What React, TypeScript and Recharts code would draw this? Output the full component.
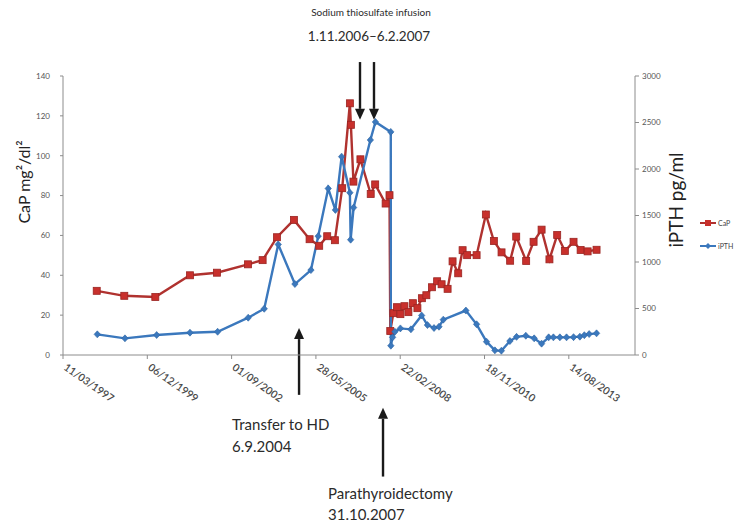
import { LineChart, Line, XAxis, YAxis, ReferenceLine } from "recharts";

// x positions are days counted from 11/03/1997 (Excel date axis, major unit 1000 days)
const TICK_DAYS = [0, 1000, 2000, 3000, 4000, 5000, 6000];
const TICK_LABELS = ["11/03/1997", "06/12/1999", "01/09/2002", "28/05/2005", "22/02/2008", "18/11/2010", "14/08/2013"];
const CAP_TICKS = [0, 20, 40, 60, 80, 100, 120, 140];
const PTH_TICKS = [0, 500, 1000, 1500, 2000, 2500, 3000];

const CAP_DAYS = [
  400, 727, 1095, 1506, 1826, 2194, 2368, 2538, 2739, 2925, 3039, 3134, 3225, 3312, 3403, 3415, 3445,
  3528, 3650, 3703, 3827, 3873, 3882, 3919, 3961, 4002, 4050, 4097, 4150, 4204, 4257, 4310, 4376,
  4438, 4491, 4562, 4621, 4688, 4740, 4794, 4906, 5016, 5111, 5202, 5304, 5376, 5494, 5582, 5677,
  5770, 5862, 5953, 6056, 6140, 6223, 6329,
];
const CAP_VALUES = [
  32.2, 29.7, 29.1, 40, 41.3, 45.5, 47.6, 59.1, 67.8, 58.1, 54.8, 59.6, 57.6, 83.7, 126.3, 115.5, 87,
  98.2, 80.8, 85.6, 76, 80.2, 12, 21, 24, 20.5, 24.5, 21.5, 26, 23.5, 28.5, 30, 34,
  37, 35.5, 33.2, 47, 41, 52.6, 50.1, 50.1, 70.5, 57.2, 51.5, 47.3, 59.4, 47.2, 56.8, 62.9,
  48, 60.2, 52.2, 56.8, 52.7, 52, 52.8,
];

const PTH_DAYS = [
  407, 735, 1111, 1506, 1834, 2197, 2387, 2553, 2751, 2941, 3027, 3146, 3231, 3305, 3403, 3412, 3447,
  3646, 3706, 3888, 3889, 3910, 3937, 4002, 4127, 4254, 4323, 4401, 4460, 4511, 4779, 4906, 5024,
  5123, 5200, 5301, 5380, 5490, 5589, 5677, 5761, 5817, 5894, 5973, 6056, 6131, 6184, 6241, 6329,
];
const PTH_VALUES = [
  222, 179, 215, 240, 250, 401, 497, 1189, 763, 913, 1278, 1790, 1560, 2133, 1745, 1240, 1585,
  2312, 2506, 2399, 100, 190, 250, 286, 276, 425, 322, 290, 304, 380, 478, 330, 143,
  50, 46, 150, 195, 207, 179, 122, 190, 190, 190, 190, 192, 197, 213, 225, 233,
];

const capData = CAP_DAYS.map((day, i) => ({ day, value: CAP_VALUES[i] }));
const pthData = PTH_DAYS.map((day, i) => ({ day, value: PTH_VALUES[i] }));

const RED = "#c8302c";
const RED_LINE = "#b0322f";
const BLUE = "#3b78bd";
const AXIS = "#8c8c8c";
const FONT = "Lato, 'Open Sans', sans-serif";

function Square(props: any) {
  const { cx, cy } = props;
  if (cx == null || cy == null) return null;
  return <rect x={cx - 3.5} y={cy - 3.5} width={7} height={7} fill={RED} stroke="#9a2522" strokeWidth={0.8} />;
}

function Diamond(props: any) {
  const { cx, cy } = props;
  if (cx == null || cy == null) return null;
  return <path d={`M${cx},${cy - 3.5}L${cx + 3.2},${cy}L${cx},${cy + 3.5}L${cx - 3.2},${cy}Z`} fill={BLUE} stroke="#2d64a3" strokeWidth={0.6} />;
}

function DateTick({ x, y, payload }: any) {
  const label = TICK_LABELS[TICK_DAYS.indexOf(payload.value)] ?? "";
  const tx = x;
  const ty = y + 8;
  return (
    <text x={tx} y={ty} transform={`rotate(35, ${tx}, ${ty})`} textAnchor="start" fontSize={10.5} fontFamily={FONT} fontWeight={600} fill="#4a4a4a">
      {label}
    </text>
  );
}

type Note = { text: string; dx: number; dy: number; size: number; anchor?: "start" | "middle" };

// arrow drawn from (x1,y1) to its tip at (x2,y2); notes are placed relative to the tail
function makeArrow(notes: Note[]) {
  return (p: any) => {
    const { x1, y1, x2, y2 } = p;
    const dir = y2 > y1 ? 1 : -1;
    const head = 11;
    return (
      <g>
        <line x1={x1} y1={y1} x2={x2} y2={y2 - dir * head} stroke="#1a1a1a" strokeWidth={2.4} />
        <path d={`M${x2},${y2}L${x2 - 5},${y2 - dir * head}L${x2 + 5},${y2 - dir * head}Z`} fill="#1a1a1a" />
        {notes.map((n) => (
          <text key={n.text} x={x1 + n.dx} y={y1 + n.dy} fontSize={n.size} fontFamily={FONT} fill="#2b2b2b" textAnchor={n.anchor ?? "start"}>
            {n.text}
          </text>
        ))}
      </g>
    );
  };
}

const LEGEND = [
  { name: "CaP", color: RED_LINE, marker: <rect x={5} y={1} width={6} height={6} fill={RED} /> },
  { name: "iPTH", color: BLUE, marker: <path d="M8,1L11,4L8,7L5,4Z" fill={BLUE} /> },
];

function LegendBox() {
  return (
    <div style={{ position: "absolute", left: 700, top: 219, width: 45, overflow: "hidden", fontFamily: FONT, fontSize: 7, color: "#444", lineHeight: "8px" }}>
      {LEGEND.map((it) => (
        <div key={it.name} style={{ display: "flex", alignItems: "center", height: 8, marginBottom: 15 }}>
          <svg width={16} height={8} style={{ marginRight: 2 }}>
            <line x1={0} y1={4} x2={16} y2={4} stroke={it.color} strokeWidth={2} />
            {it.marker}
          </svg>
          <span>{it.name}</span>
        </div>
      ))}
    </div>
  );
}

export default function App() {
  return (
    <div style={{ position: "absolute", left: 0, top: 0, width: 745, height: 523, background: "#fff", overflow: "hidden" }}>
      <LineChart width={745} height={523} margin={{ top: 76, right: 70, bottom: 138, left: 23 }}>
        <XAxis
          dataKey="day"
          type="number"
          domain={[0, 6785]}
          ticks={TICK_DAYS}
          allowDataOverflow
          height={30}
          tick={<DateTick />}
          tickSize={4}
          axisLine={{ stroke: AXIS }}
          tickLine={{ stroke: AXIS }}
        />
        <YAxis
          yAxisId="left"
          domain={[0, 140]}
          ticks={CAP_TICKS}
          width={40}
          tickSize={3}
          tickMargin={10}
          axisLine={{ stroke: AXIS }}
          tickLine={{ stroke: AXIS }}
          tick={{ fontSize: 8, fill: "#555", fontFamily: FONT }}
          label={{
            content: () => (
              <text x={30} y={182} transform="rotate(-90, 30, 182)" textAnchor="middle" fontSize={16} fontFamily={FONT} fill="#222">
                CaP mg²/dl²
              </text>
            ),
          }}
        />
        <YAxis
          yAxisId="right"
          orientation="right"
          domain={[0, 3000]}
          ticks={PTH_TICKS}
          width={40}
          tickSize={4}
          tickMargin={3}
          axisLine={{ stroke: AXIS }}
          tickLine={{ stroke: AXIS }}
          tick={{ fontSize: 8, fill: "#555", fontFamily: FONT }}
          label={{
            content: () => (
              <text x={683} y={200} transform="rotate(-90, 683, 200)" textAnchor="middle" fontSize={19} fontFamily={FONT} fill="#222">
                iPTH pg/ml
              </text>
            ),
          }}
        />
        <Line
          yAxisId="left"
          data={capData}
          dataKey="value"
          name="CaP"
          stroke={RED_LINE}
          strokeWidth={2.4}
          dot={<Square />}
          activeDot={false}
          isAnimationActive={false}
        />
        <Line
          yAxisId="right"
          data={pthData}
          dataKey="value"
          name="iPTH"
          stroke={BLUE}
          strokeWidth={2.4}
          dot={<Diamond />}
          activeDot={false}
          isAnimationActive={false}
        />
        {/* Sodium thiosulfate infusion 1.11.2006 - 6.2.2007 */}
        <ReferenceLine
          yAxisId="left"
          ifOverflow="visible"
          segment={[{ x: 3523, y: 147 }, { x: 3523, y: 118 }]}
          shape={makeArrow([
            { text: "Sodium thiosulfate infusion", dx: 11, dy: -46, size: 10, anchor: "middle" },
            { text: "1.11.2006–6.2.2007", dx: 9, dy: -21, size: 13.5, anchor: "middle" },
          ])}
        />
        <ReferenceLine
          yAxisId="left"
          ifOverflow="visible"
          segment={[{ x: 3689, y: 147 }, { x: 3689, y: 118 }]}
          shape={makeArrow([])}
        />
        <ReferenceLine
          yAxisId="left"
          ifOverflow="visible"
          segment={[{ x: 2800, y: -20 }, { x: 2800, y: 13.5 }]}
          shape={makeArrow([
            { text: "Transfer  to HD", dx: -67, dy: 35, size: 15 },
            { text: "6.9.2004", dx: -67, dy: 57, size: 15 },
          ])}
        />
        <ReferenceLine
          yAxisId="left"
          ifOverflow="visible"
          segment={[{ x: 3796, y: -61 }, { x: 3796, y: -26.5 }]}
          shape={makeArrow([
            { text: "Parathyroidectomy", dx: -55, dy: 22, size: 15 },
            { text: "31.10.2007", dx: -55, dy: 43, size: 15 },
          ])}
        />
      </LineChart>
      <LegendBox />
    </div>
  );
}
